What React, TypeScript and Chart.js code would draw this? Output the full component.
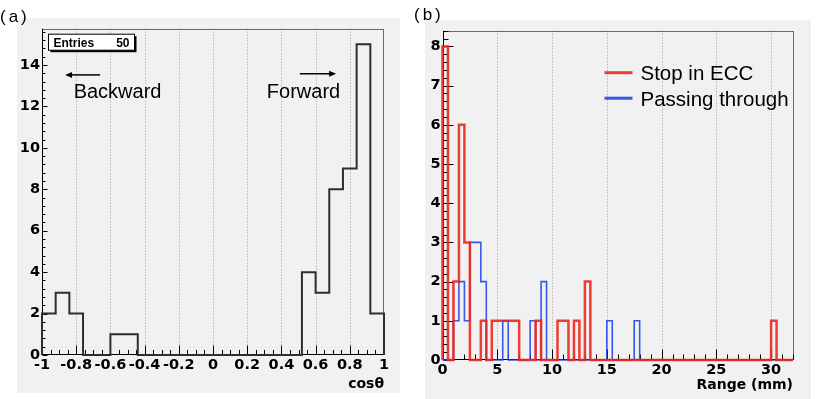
import React, { useEffect, useRef } from 'react';
import { Chart, registerables } from 'chart.js';

Chart.register(...registerables);

// ---------------- Panel (a): cos(theta) ----------------
const cosMin = -1;
const cosMax = 1;
const cosBinWidth = 0.08;
const cosCounts = [2, 3, 2, 0, 0, 1, 1, 0, 0, 0, 0, 0, 0, 0, 0, 0, 0, 0, 0, 4, 3, 8, 9, 15, 2];
const cosXTicks = [-1, -0.8, -0.6, -0.4, -0.2, 0, 0.2, 0.4, 0.6, 0.8, 1];
const cosXTickLabels = ['-1', '-0.8', '-0.6', '-0.4', '-0.2', '0', '0.2', '0.4', '0.6', '0.8', '1'];
const cosYTicks = [0, 2, 4, 6, 8, 10, 12, 14];
const cosYTickLabels = ['0', '2', '4', '6', '8', '10', '12', '14'];
const cosYMax = 15.75;
const cosEntries = 50;

// ---------------- Panel (b): Range ----------------
const rangeMin = 0;
const rangeMax = 32;
const rangeBinWidth = 0.5;
const stopInEcc = [
  8, 0, 2, 6, 3, 0, 0, 1, 0, 1,
  1, 1, 1, 1, 0, 0, 0, 1, 0, 0,
  0, 1, 1, 0, 1, 0, 2, 0, 0, 0,
  0, 0, 0, 0, 0, 0, 0, 0, 0, 0,
  0, 0, 0, 0, 0, 0, 0, 0, 0, 0,
  0, 0, 0, 0, 0, 0, 0, 0, 0, 0,
  1, 0, 0, 0,
];
const passingThrough = [
  0, 0, 1, 2, 1, 3, 3, 2, 0, 0,
  0, 1, 0, 0, 0, 0, 1, 0, 2, 0,
  0, 0, 0, 0, 0, 0, 0, 0, 0, 0,
  1, 0, 0, 0, 0, 1, 0, 0, 0, 0,
  0, 0, 0, 0, 0, 0, 0, 0, 0, 0,
  0, 0, 0, 0, 0, 0, 0, 0, 0, 0,
  0, 0, 0, 0,
];
const rangeXTicks = [0, 5, 10, 15, 20, 25, 30];
const rangeXTickLabels = ['0', '5', '10', '15', '20', '25', '30'];
const rangeYTicks = [0, 1, 2, 3, 4, 5, 6, 7, 8];
const rangeYTickLabels = ['0', '1', '2', '3', '4', '5', '6', '7', '8'];
const rangeYMax = 8.4;
const seriesNames = ['Stop in ECC', 'Passing through'];

// ---------------- styling ----------------
const PANEL_BG = '#f1f1f1';
const RED = 'rgba(236,40,30,0.9)';
const BLUE = 'rgba(30,66,232,0.88)';
const tickFont = { family: 'DejaVu Sans', weight: 'bold' as const, size: 14.5 };
const titleFont = { family: 'DejaVu Sans', weight: 'bold' as const, size: 14 };

function histPoints(counts: number[], min: number, width: number) {
  const pts: { x: number; y: number }[] = [{ x: min, y: 0 }];
  counts.forEach((c, i) => pts.push({ x: min + i * width, y: c }));
  pts.push({ x: min + counts.length * width, y: 0 });
  return pts;
}

type DecorCfg = {
  xMin: number; xMax: number; xMinorStep: number; xMajor: number[]; xTickLen: [number, number];
  yMin: number; yMax: number; yMinorStep: number; yMajor: number[]; yTickLen: [number, number];
  grid: number[];
  extra?: (chart: any) => void;
};

function isMajor(list: number[], v: number) {
  return list.some((m) => Math.abs(m - v) < 1e-6);
}

function makeDecor(id: string, cfg: DecorCfg) {
  return {
    id,
    beforeDatasetsDraw(chart: any) {
      const { ctx, chartArea: a, scales } = chart;
      ctx.save();
      ctx.strokeStyle = '#9c9c9c';
      ctx.lineWidth = 1;
      ctx.setLineDash([1, 2]);
      cfg.grid.forEach((v) => {
        const x = Math.round(scales.x.getPixelForValue(v)) + 0.5;
        ctx.beginPath();
        ctx.moveTo(x, a.top);
        ctx.lineTo(x, a.bottom);
        ctx.stroke();
      });
      ctx.setLineDash([]);
      ctx.strokeStyle = '#6a6a6a';
      ctx.strokeRect(Math.round(a.left) + 0.5, Math.round(a.top) + 0.5, Math.round(a.right - a.left) - 1, Math.round(a.bottom - a.top) - 1);
      ctx.strokeStyle = '#000';
      const L = Math.round(a.left) + 0.5;
      const B = Math.round(a.bottom) - 0.5;
      ctx.beginPath();
      ctx.moveTo(L, a.top);
      ctx.lineTo(L, B);
      ctx.lineTo(a.right, B);
      ctx.stroke();
      ctx.beginPath();
      const nx = Math.round((cfg.xMax - cfg.xMin) / cfg.xMinorStep);
      for (let i = 0; i <= nx; i++) {
        const v = cfg.xMin + i * cfg.xMinorStep;
        const len = isMajor(cfg.xMajor, v) ? cfg.xTickLen[0] : cfg.xTickLen[1];
        const x = Math.round(scales.x.getPixelForValue(v)) + 0.5;
        ctx.moveTo(x, B);
        ctx.lineTo(x, B - len);
      }
      const ny = Math.floor((cfg.yMax - cfg.yMin) / cfg.yMinorStep + 1e-6);
      for (let i = 0; i <= ny; i++) {
        const v = cfg.yMin + i * cfg.yMinorStep;
        const len = isMajor(cfg.yMajor, v) ? cfg.yTickLen[0] : cfg.yTickLen[1];
        const y = Math.round(scales.y.getPixelForValue(v)) + 0.5;
        ctx.moveTo(L, y);
        ctx.lineTo(L + len, y);
      }
      ctx.stroke();
      ctx.restore();
    },
    afterDatasetsDraw(chart: any) {
      if (cfg.extra) {
        chart.ctx.save();
        cfg.extra(chart);
        chart.ctx.restore();
      }
    },
  };
}

function arrow(ctx: CanvasRenderingContext2D, x0: number, x1: number, y: number) {
  const dir = x1 > x0 ? 1 : -1;
  ctx.strokeStyle = '#000';
  ctx.fillStyle = '#000';
  ctx.lineWidth = 1.5;
  ctx.beginPath();
  ctx.moveTo(x0, y);
  ctx.lineTo(x1 - dir * 4, y);
  ctx.stroke();
  ctx.beginPath();
  ctx.moveTo(x1, y);
  ctx.lineTo(x1 - dir * 7, y - 3);
  ctx.lineTo(x1 - dir * 7, y + 3);
  ctx.closePath();
  ctx.fill();
}

function cosExtra(chart: any) {
  const { ctx, chartArea: a, scales } = chart;
  const sx = scales.x;
  const sy = scales.y;
  const bx = a.left + 6.5;
  const by = a.top + 5.5;
  const bw = 86;
  const bh = 16;
  ctx.fillStyle = '#000';
  ctx.fillRect(bx + 2, by + 2, bw, bh);
  ctx.fillStyle = '#fff';
  ctx.fillRect(bx, by, bw, bh);
  ctx.strokeStyle = '#000';
  ctx.lineWidth = 1;
  ctx.strokeRect(bx, by, bw, bh);
  ctx.fillStyle = '#000';
  ctx.font = 'bold 12px "Liberation Sans"';
  ctx.textBaseline = 'alphabetic';
  ctx.textAlign = 'left';
  ctx.fillText('Entries', bx + 5, by + 13);
  ctx.textAlign = 'right';
  ctx.fillText(String(cosEntries), bx + bw - 5, by + 13);
  arrow(ctx, sx.getPixelForValue(-0.66), sx.getPixelForValue(-0.865), sy.getPixelForValue(13.52));
  arrow(ctx, sx.getPixelForValue(0.508), sx.getPixelForValue(0.72), sy.getPixelForValue(13.57));
  ctx.fillStyle = '#000';
  ctx.font = '20px "Liberation Sans"';
  ctx.textAlign = 'left';
  ctx.fillText('Backward', sx.getPixelForValue(-0.815), sy.getPixelForValue(12.42));
  ctx.fillText('Forward', sx.getPixelForValue(0.315), sy.getPixelForValue(12.42));
}

function rangeExtra(chart: any) {
  const { ctx, chartArea: a } = chart;
  const colors = [RED, BLUE];
  ctx.font = '20.5px "Liberation Sans"';
  ctx.textAlign = 'left';
  ctx.textBaseline = 'alphabetic';
  seriesNames.forEach((name, i) => {
    const y = a.top + 42 + i * 25.5;
    ctx.strokeStyle = colors[i];
    ctx.lineWidth = 3;
    ctx.beginPath();
    ctx.moveTo(a.left + 162, y);
    ctx.lineTo(a.left + 190, y);
    ctx.stroke();
    ctx.fillStyle = '#000';
    ctx.fillText(name, a.left + 198, y + 7.5);
  });
}

const commonOptions = {
  animation: false as const,
  responsive: false,
  maintainAspectRatio: false,
  events: [] as any[],
  plugins: { legend: { display: false }, tooltip: { enabled: false }, title: { display: false } },
};

function cosConfig(): any {
  return {
    type: 'line',
    data: {
      datasets: [
        {
          data: histPoints(cosCounts, cosMin, cosBinWidth),
          borderColor: '#2e2e2e',
          borderWidth: 2,
          pointRadius: 0,
          stepped: true,
          fill: false,
          clip: 4,
        },
      ],
    },
    options: {
      ...commonOptions,
      layout: { padding: { top: 9, right: 16, left: 0, bottom: 0 } },
      scales: {
        x: {
          type: 'linear',
          min: cosMin,
          max: cosMax,
          afterBuildTicks: (s: any) => { s.ticks = cosXTicks.map((v) => ({ value: v })); },
          afterFit: (s: any) => { s.height = 38; },
          grid: { display: false, drawTicks: false },
          border: { display: false },
          ticks: { autoSkip: false, maxRotation: 0, padding: 2, font: tickFont, color: '#000', callback: (_v: any, i: number) => cosXTickLabels[i] },
          title: { display: true, text: 'cosθ', align: 'end', font: titleFont, color: '#000', padding: 0 },
        },
        y: {
          type: 'linear',
          min: 0,
          max: cosYMax,
          afterBuildTicks: (s: any) => { s.ticks = cosYTicks.map((v) => ({ value: v })); },
          afterFit: (s: any) => { s.width = 25; },
          grid: { display: false, drawTicks: false },
          border: { display: false },
          ticks: { autoSkip: false, padding: 2, font: tickFont, color: '#000', callback: (_v: any, i: number) => cosYTickLabels[i] },
        },
      },
    },
    plugins: [
      makeDecor('cosDecor', {
        xMin: cosMin, xMax: cosMax, xMinorStep: 0.05, xMajor: cosXTicks, xTickLen: [9, 4.5],
        yMin: 0, yMax: cosYMax, yMinorStep: 0.4, yMajor: cosYTicks, yTickLen: [5, 3],
        grid: cosXTicks.slice(1, -1),
        extra: cosExtra,
      }),
    ],
  };
}

function rangeConfig(): any {
  return {
    type: 'line',
    data: {
      datasets: [
        {
          label: seriesNames[0],
          data: histPoints(stopInEcc, rangeMin, rangeBinWidth),
          borderColor: RED,
          borderWidth: 2.5,
          pointRadius: 0,
          stepped: true,
          fill: false,
          clip: 4,
        },
        {
          label: seriesNames[1],
          data: histPoints(passingThrough, rangeMin, rangeBinWidth),
          borderColor: BLUE,
          borderWidth: 1.6,
          pointRadius: 0,
          stepped: true,
          fill: false,
          clip: 4,
        },
      ],
    },
    options: {
      ...commonOptions,
      layout: { padding: { top: 4, right: 18, left: 0, bottom: 0 } },
      scales: {
        x: {
          type: 'linear',
          min: rangeMin,
          max: rangeMax,
          afterBuildTicks: (s: any) => { s.ticks = rangeXTicks.map((v) => ({ value: v })); },
          afterFit: (s: any) => { s.height = 39; },
          grid: { display: false, drawTicks: false },
          border: { display: false },
          ticks: { autoSkip: false, maxRotation: 0, padding: 2, font: tickFont, color: '#000', callback: (_v: any, i: number) => rangeXTickLabels[i] },
          title: { display: true, text: 'Range (mm)', align: 'end', font: titleFont, color: '#000', padding: { top: 0, bottom: 5 } },
        },
        y: {
          type: 'linear',
          min: 0,
          max: rangeYMax,
          afterBuildTicks: (s: any) => { s.ticks = rangeYTicks.map((v) => ({ value: v })); },
          afterFit: (s: any) => { s.width = 17.5; },
          grid: { display: false, drawTicks: false },
          border: { display: false },
          ticks: { autoSkip: false, padding: 2, font: tickFont, color: '#000', callback: (_v: any, i: number) => rangeYTickLabels[i] },
        },
      },
    },
    plugins: [
      makeDecor('rangeDecor', {
        xMin: rangeMin, xMax: rangeMax, xMinorStep: 1, xMajor: rangeXTicks, xTickLen: [10, 5],
        yMin: 0, yMax: rangeYMax, yMinorStep: 0.2, yMajor: rangeYTicks, yTickLen: [10, 5],
        grid: rangeXTicks.slice(1),
        extra: rangeExtra,
      }),
    ],
  };
}

function Panel(props: { build: () => any; left: number; top: number; width: number; height: number }) {
  const ref = useRef<HTMLCanvasElement>(null);
  useEffect(() => {
    const chart = new Chart(ref.current as HTMLCanvasElement, props.build());
    return () => chart.destroy();
  }, []);
  return (
    <canvas
      ref={ref}
      width={props.width}
      height={props.height}
      style={{ position: 'absolute', left: props.left, top: props.top, width: props.width, height: props.height, background: PANEL_BG }}
    />
  );
}

const labelStyle: React.CSSProperties = {
  position: 'absolute',
  zIndex: 2,
  fontFamily: '"Liberation Sans", Arial, sans-serif',
  fontSize: 17,
  letterSpacing: 3,
  lineHeight: '20px',
  color: '#000',
  whiteSpace: 'nowrap',
};

export default function App() {
  return (
    <div style={{ position: 'absolute', left: 0, top: 0, width: 817, height: 399, background: '#fff', overflow: 'hidden' }}>
      <Panel build={cosConfig} left={17} top={18} width={383} height={375} />
      <Panel build={rangeConfig} left={425} top={20} width={386} height={379} />
      <span style={{ ...labelStyle, left: 0, top: 7 }}>(a)</span>
      <span style={{ ...labelStyle, left: 414, top: 5 }}>(b)</span>
    </div>
  );
}
